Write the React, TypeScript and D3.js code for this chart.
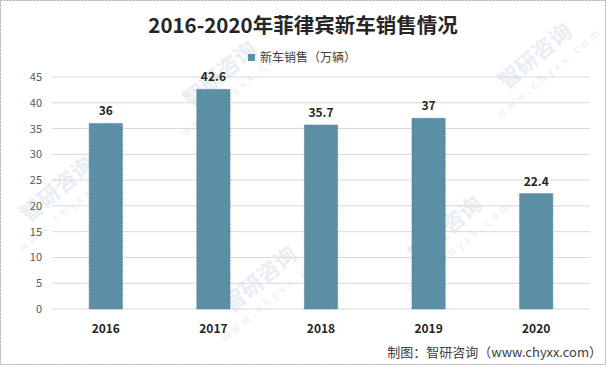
import * as d3 from "d3";
import React from "react";

const years = ["2016", "2017", "2018", "2019", "2020"];
const sales = [36, 42.6, 35.7, 37, 22.4];
const yTicks = [0, 5, 10, 15, 20, 25, 30, 35, 40, 45];

const title = "2016-2020年菲律宾新车销售情况";
const seriesName = "新车销售（万辆）";
const source = "制图：智研咨询（www.chyxx.com）";

// rough spots of the faint diagonal watermark
const marks = [
  [62, 195],
  [225, 80],
  [540, 62],
  [265, 285],
  [450, 235],
];

const W = 606;
const H = 365;
const font = "'Noto Sans CJK SC', 'Noto Sans', sans-serif";

export default function App() {
  const x = d3.scaleBand().domain(years).range([52, 590]).paddingInner(0.69).paddingOuter(0.345);
  const y = d3.scaleLinear().domain([0, 45]).range([309, 77]);

  return (
    <svg
      width={W}
      height={H}
      style={{ position: "absolute", left: 0, top: 0, background: "#fff" }}
      fontFamily={font}
    >
      <rect x={0.5} y={0.5} width={W - 1} height={H - 1} fill="#fff" stroke="#a6a6a6" strokeDasharray="2,1" />

      {marks.map(([mx, my], i) => (
        <g key={i} transform={`translate(${mx},${my}) rotate(-40)`} fill="#e9eef4">
          <text fontSize={22} fontWeight="bold" textAnchor="middle">智研咨询</text>
          <text y={18} fontSize={11} textAnchor="middle" letterSpacing={4}>www.chyxx.com</text>
        </g>
      ))}

      <text x={303} y={33} textAnchor="middle" fontSize={20.5} fontWeight="bold" fill="#262626">
        {title}
      </text>

      <rect x={248} y={54} width={7} height={7} fill="#5b8fa6" />
      <text x={260} y={61.5} fontSize={12} fill="#404040">{seriesName}</text>

      {yTicks.map((t) => (
        <g key={t}>
          <line x1={52} x2={590} y1={y(t)} y2={y(t)} stroke="#d9d9d9" />
          <text x={42} y={y(t) + 4} textAnchor="end" fontSize={11} fill="#595959">{t}</text>
        </g>
      ))}

      {years.map((yr, i) => (
        <g key={yr}>
          <rect
            x={x(yr)}
            y={y(sales[i])}
            width={x.bandwidth()}
            height={y(0) - y(sales[i])}
            fill="#5b8fa6"
            stroke="#4f7f96"
            strokeWidth={0.6}
            strokeDasharray="2,1"
          />
          <text
            x={x(yr)! + x.bandwidth() / 2}
            y={y(sales[i]) - 8}
            textAnchor="middle"
            fontSize={12}
            fontWeight="bold"
            fill="#262626"
          >
            {sales[i]}
          </text>
          <text
            x={x(yr)! + x.bandwidth() / 2}
            y={333}
            textAnchor="middle"
            fontSize={12}
            fontWeight="bold"
            fill="#262626"
          >
            {yr}
          </text>
        </g>
      ))}

      <text x={602} y={357} textAnchor="end" fontSize={13} fill="#404040">{source}</text>
    </svg>
  );
}
